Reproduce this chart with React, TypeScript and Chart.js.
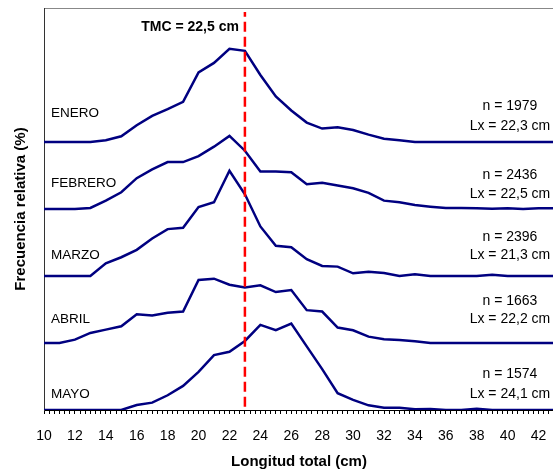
import React, { useEffect, useRef } from "react";
import { Chart, registerables } from "chart.js";

Chart.register(...registerables);

// Length classes (cm)
const LENGTHS = [10, 11, 12, 13, 14, 15, 16, 17, 18, 19, 20, 21, 22, 23, 24, 25, 26, 27, 28, 29, 30, 31, 32, 33, 34, 35, 36, 37, 38, 39, 40, 41, 42, 43];

// Relative frequency (%) per month
const ENERO = [0, 0, 0, 0, 0.25, 0.85, 2.5, 3.9, 4.9, 6.0, 10.4, 11.8, 13.9, 13.6, 10.0, 6.8, 4.7, 2.9, 2.0, 2.2, 1.8, 1.1, 0.5, 0.25, 0, 0, 0, 0, 0, 0, 0, 0, 0, 0];
const FEBRERO = [0, 0, 0, 0.15, 1.25, 2.5, 4.6, 5.9, 7.0, 7.0, 7.9, 9.3, 10.9, 8.7, 5.6, 5.6, 5.5, 3.7, 3.9, 3.5, 3.1, 2.4, 1.25, 1.0, 0.6, 0.35, 0.15, 0.15, 0.1, 0.05, 0.1, 0, 0.1, 0.1];
const MARZO = [0, 0, 0, 0, 1.9, 2.8, 3.9, 5.6, 7.0, 7.2, 10.3, 11.0, 15.7, 12.2, 7.4, 4.5, 4.3, 2.5, 1.5, 1.4, 0.4, 0.65, 0.45, 0, 0.25, 0, 0, 0, 0, 0.2, 0, 0, 0, 0];
const ABRIL = [0, 0, 0.5, 1.5, 2.0, 2.5, 4.3, 4.1, 4.5, 4.7, 9.4, 9.6, 8.7, 8.3, 8.6, 7.6, 7.9, 4.9, 4.7, 2.3, 1.9, 0.95, 0.55, 0.45, 0.25, 0, 0, 0, 0, 0, 0, 0, 0, 0];
const MAYO = [0, 0, 0, 0, 0, 0, 0.75, 1.1, 2.2, 3.6, 5.7, 8.2, 8.7, 10.3, 12.7, 11.9, 12.9, 9.5, 6.1, 2.5, 1.5, 0.7, 0.35, 0.35, 0.1, 0.15, 0, 0, 0.2, 0, 0, 0, 0, 0];

const MONTHS = ["ENERO", "FEBRERO", "MARZO", "ABRIL", "MAYO"];
const N_VALUES = ["1979", "2436", "2396", "1663", "1574"];
const LX_VALUES = ["22,3", "22,5", "21,3", "22,2", "24,1"];
const OFFSETS = [40, 30, 20, 10, 0];
const TMC_X = 23;
const TMC_LABEL = "TMC = 22,5 cm";
const TICK_LABELS = [10, 12, 14, 16, 18, 20, 22, 24, 26, 28, 30, 32, 34, 36, 38, 40, 42];

const SERIES = [ENERO, FEBRERO, MARZO, ABRIL, MAYO];
const FONT = "'Liberation Sans', Arial, Helvetica, sans-serif";

const annotationsPlugin = {
  id: "annotations",
  afterDatasetsDraw(chart: any) {
    const { ctx, scales } = chart;
    const x = scales.x;
    const y = scales.y;
    const monthLift = [4.3, 3.9, 3.1, 3.6, 2.4];
    const nLift = [5.4, 5.1, 5.8, 6.3, 5.4];
    const lxLift = [2.4, 2.2, 3.1, 3.6, 2.4];
    ctx.save();
    ctx.fillStyle = "#000";
    ctx.textBaseline = "middle";
    ctx.font = `13.5px ${FONT}`;
    ctx.textAlign = "left";
    MONTHS.forEach((m, i) => {
      ctx.fillText(m, x.getPixelForValue(10.45), y.getPixelForValue(OFFSETS[i] + monthLift[i]));
    });
    ctx.font = `14px ${FONT}`;
    ctx.textAlign = "center";
    MONTHS.forEach((_, i) => {
      const cx = x.getPixelForValue(40.15);
      ctx.fillText(`n = ${N_VALUES[i]}`, cx, y.getPixelForValue(OFFSETS[i] + nLift[i]));
      ctx.fillText(`Lx = ${LX_VALUES[i]} cm`, cx, y.getPixelForValue(OFFSETS[i] + lxLift[i]));
    });
    ctx.font = `bold 14px ${FONT}`;
    ctx.textAlign = "right";
    ctx.fillText(TMC_LABEL, x.getPixelForValue(TMC_X) - 6, y.getPixelForValue(57.2));
    ctx.restore();
  },
};

export default function App() {
  const ref = useRef<HTMLCanvasElement>(null);

  useEffect(() => {
    if (!ref.current) return;
    const datasets: any[] = [
      {
        label: TMC_LABEL,
        data: [
          { x: TMC_X, y: 0.5 },
          { x: TMC_X, y: 59.4 },
        ],
        borderColor: "#ff0000",
        borderWidth: 2.5,
        borderDash: [10, 5],
        pointRadius: 0,
        fill: false,
      },
      ...MONTHS.map((m, i) => ({
        label: m,
        data: LENGTHS.map((lx, j) => ({ x: lx, y: SERIES[i][j] + OFFSETS[i] })),
        borderColor: "#000080",
        borderWidth: 2.5,
        pointRadius: 0,
        fill: false,
        tension: 0,
      })),
    ];

    const chart = new Chart(ref.current, {
      type: "line",
      data: { datasets },
      options: {
        animation: false,
        responsive: false,
        layout: { padding: { left: 11.5, top: 8, right: 2, bottom: 0 } },
        plugins: { legend: { display: false }, tooltip: { enabled: false } },
        elements: { point: { radius: 0 }, line: { tension: 0 } },
        scales: {
          x: {
            type: "linear",
            position: "bottom",
            min: 10,
            max: 43,
            afterBuildTicks: (axis: any) => {
              const t: any[] = [];
              for (let k = 0; k <= 99; k++) t.push({ value: 10 + k / 3 });
              axis.ticks = t;
            },
            ticks: {
              autoSkip: false,
              maxRotation: 0,
              minRotation: 0,
              padding: 1,
              color: "#000",
              font: { family: FONT, size: 14, lineHeight: 3 },
              callback: (value: any) => {
                const v = Number(value);
                const r = Math.round(v);
                if (Math.abs(v - r) < 1e-6 && TICK_LABELS.includes(r)) return String(r);
                return "";
              },
            },
            grid: { drawOnChartArea: false, drawTicks: true, tickLength: 4, color: "#000", lineWidth: 1 },
            border: { display: true, color: "#000", width: 1 },
            title: {
              display: true,
              text: "Longitud total (cm)",
              color: "#000",
              font: { family: FONT, size: 15, weight: "bold" },
              padding: { top: -5, bottom: 2 },
            },
          },
          xTop: {
            type: "linear",
            position: "top",
            min: 10,
            max: 43,
            ticks: { display: false },
            grid: { display: false, drawTicks: false },
            border: { display: true, color: "#888", width: 1 },
          },
          y: {
            type: "linear",
            min: 0,
            max: 60,
            ticks: { display: false },
            grid: { display: false, drawTicks: false },
            border: { display: true, color: "#333", width: 1 },
            title: {
              display: true,
              text: "Frecuencia relativa (%)",
              color: "#000",
              font: { family: FONT, size: 15, weight: "bold" },
              padding: { top: 0, bottom: 14.5 },
            },
          },
        },
      } as any,
      plugins: [annotationsPlugin],
    });
    return () => chart.destroy();
  }, []);

  return (
    <div
      style={{
        position: "absolute",
        left: 0,
        top: 0,
        width: 553,
        height: 473,
        overflow: "hidden",
        background: "#fff",
      }}
    >
      <canvas ref={ref} width={556} height={473} style={{ display: "block" }} />
    </div>
  );
}
